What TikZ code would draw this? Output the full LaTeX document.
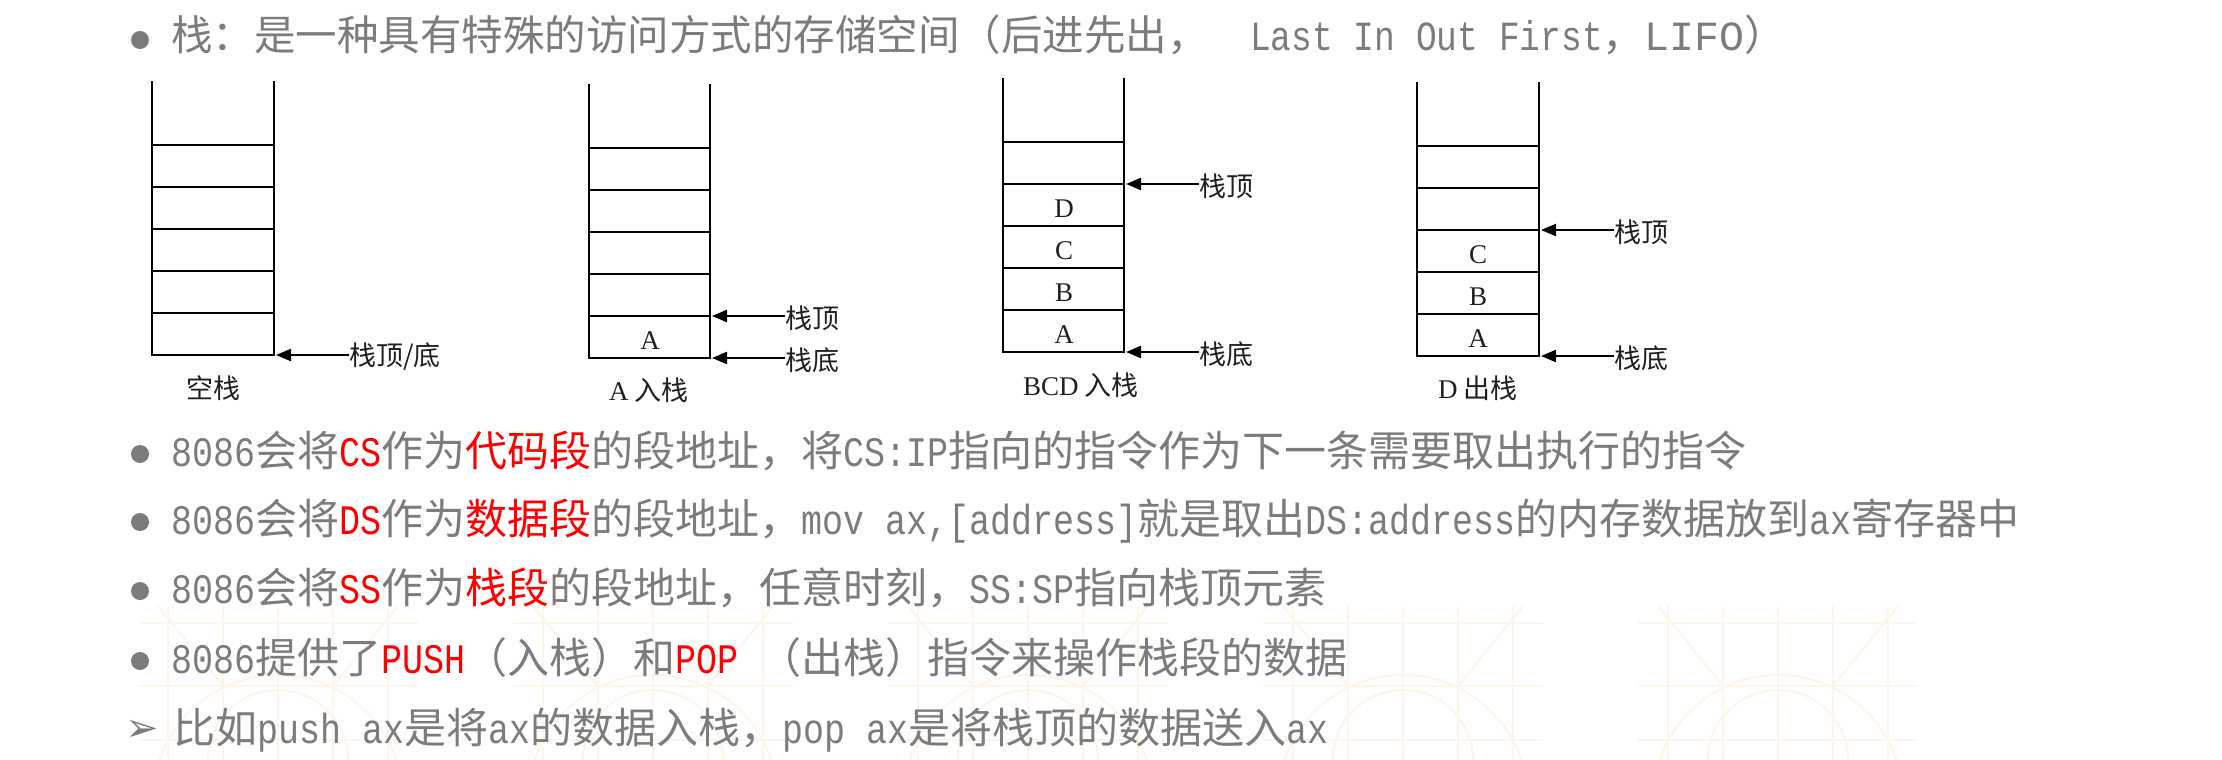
\documentclass[tikz,border=0pt]{standalone}
\usepackage{fontspec}
\setmainfont{Noto Sans CJK SC}
\newfontfamily\stackserif{Liberation Serif}
\newfontfamily\halfmono[FakeStretch=0.8333]{Liberation Mono}
\newfontfamily\widemono{Liberation Mono}
\newfontfamily\dingfont{DejaVu Sans}
\usetikzlibrary{arrows.meta}

\definecolor{textgray}{RGB}{124,124,124}
\definecolor{keyred}{RGB}{255,0,0}
\definecolor{latticeorange}{RGB}{254,245,234}

\newcommand{\hw}[1]{{\halfmono #1}}
\newcommand{\keyword}[1]{{\color{keyred}#1}}

\begin{document}
\begin{tikzpicture}[
            x=1pt, y=-1pt,
            >={Triangle[length=15pt,width=12pt]},
            stackline/.style={black, line width=1.3pt},
            pointer/.style={->, black, line width=2.2pt},
            stacklabel/.style={inner sep=0pt, text=black!88, font=\fontsize{27pt}{30pt}\selectfont},
            stackletter/.style={inner sep=0pt, text=black!88, font=\fontsize{27pt}{30pt}\stackserif},
            bullettext/.style={anchor=base west, inner sep=0pt, text=textgray, font=\fontsize{42pt}{50pt}\selectfont},
            bulletdot/.style={circle, fill=textgray, inner sep=0pt, minimum size=18pt},
            lattice/.style={latticeorange, line width=2.2pt}
        ]
        \useasboundingbox[fill=white] (0,0) rectangle (2222,760);

        %Background lattice

        \def\latticetile#1{
            \draw[lattice] (#1,623) -- ++(280,0) (#1,686) -- ++(280,0) (#1,740) -- ++(280,0);
            \draw[lattice] (#1+30,606) -- ++(0,154) (#1+85,606) -- ++(0,154) (#1+140,606) -- ++(0,154)
                (#1+195,606) -- ++(0,154) (#1+250,606) -- ++(0,154);
            \draw[lattice] (#1+20,606) -- (#1+85,686) (#1+260,606) -- (#1+195,686);
            \draw[lattice] (#1+140,800) circle (125pt);
            \draw[lattice] (#1+140,760) circle (70pt);
        }
        \latticetile{138}
        \latticetile{513}
        \latticetile{888}
        \latticetile{1263}
        \latticetile{1638}

        %% Title line

        \node[bulletdot] (dot0) at (140,40) {};
        \node[bullettext, font=\fontsize{41.5pt}{48pt}\selectfont] (title) at (171,51)
            {栈：是一种具有特殊的访问方式的存储空间（后进先出，\hw{\ \ Last In Out First}，{\widemono LIFO}）};

        %% Stack 1: empty stack

        \def\StackOneL{152}; \def\StackOneR{274}; \def\StackOneB{355};

        \coordinate (stack1_tl) at (\StackOneL,\StackOneB-274);
        \coordinate (stack1_bl) at (\StackOneL,\StackOneB);
        \coordinate (stack1_br) at (\StackOneR,\StackOneB);
        \coordinate (stack1_tr) at (\StackOneR,\StackOneB-274);
        \coordinate (stack1_bot) at (\StackOneR+2,\StackOneB);

        \draw[stackline] (stack1_tl) -- (stack1_bl) -- (stack1_br) -- (stack1_tr);
        \draw[stackline] (\StackOneL,\StackOneB-42) -- (\StackOneR,\StackOneB-42)
            (\StackOneL,\StackOneB-84) -- (\StackOneR,\StackOneB-84)
            (\StackOneL,\StackOneB-126) -- (\StackOneR,\StackOneB-126)
            (\StackOneL,\StackOneB-168) -- (\StackOneR,\StackOneB-168)
            (\StackOneL,\StackOneB-210) -- (\StackOneR,\StackOneB-210);
        \node[stacklabel, anchor=west] (stack1_botlbl) at (\StackOneR+75,\StackOneB+2) {栈顶/底};
        \draw[pointer] (stack1_botlbl.west |- stack1_bot) -- (stack1_bot);
        \node[stacklabel] (stack1_cap) at (\StackOneL+61,\StackOneB+33) {空栈};

        %% Stack 2: A pushed

        \def\StackTwoL{589}; \def\StackTwoR{710}; \def\StackTwoB{358};

        \coordinate (stack2_tl) at (\StackTwoL,\StackTwoB-274);
        \coordinate (stack2_bl) at (\StackTwoL,\StackTwoB);
        \coordinate (stack2_br) at (\StackTwoR,\StackTwoB);
        \coordinate (stack2_tr) at (\StackTwoR,\StackTwoB-274);
        \coordinate (stack2_top) at (\StackTwoR+2,\StackTwoB-42);
        \coordinate (stack2_bot) at (\StackTwoR+2,\StackTwoB);

        \draw[stackline] (stack2_tl) -- (stack2_bl) -- (stack2_br) -- (stack2_tr);
        \draw[stackline] (\StackTwoL,\StackTwoB-42) -- (\StackTwoR,\StackTwoB-42)
            (\StackTwoL,\StackTwoB-84) -- (\StackTwoR,\StackTwoB-84)
            (\StackTwoL,\StackTwoB-126) -- (\StackTwoR,\StackTwoB-126)
            (\StackTwoL,\StackTwoB-168) -- (\StackTwoR,\StackTwoB-168)
            (\StackTwoL,\StackTwoB-210) -- (\StackTwoR,\StackTwoB-210);
        \node[stackletter] (stack2_a) at (\StackTwoL+61,\StackTwoB-17) {A};
        \node[stacklabel, anchor=west] (stack2_toplbl) at (\StackTwoR+75,\StackTwoB-40) {栈顶};
        \node[stacklabel, anchor=west] (stack2_botlbl) at (\StackTwoR+75,\StackTwoB+2) {栈底};
        \draw[pointer] (stack2_toplbl.west |- stack2_top) -- (stack2_top);
        \draw[pointer] (stack2_botlbl.west |- stack2_bot) -- (stack2_bot);
        \node[stacklabel] (stack2_cap) at (\StackTwoL+60,\StackTwoB+32) {{\stackserif A} 入栈};

        %% Stack 3: B, C, D pushed

        \def\StackThreeL{1003}; \def\StackThreeR{1124}; \def\StackThreeB{352};

        \coordinate (stack3_tl) at (\StackThreeL,\StackThreeB-274);
        \coordinate (stack3_bl) at (\StackThreeL,\StackThreeB);
        \coordinate (stack3_br) at (\StackThreeR,\StackThreeB);
        \coordinate (stack3_tr) at (\StackThreeR,\StackThreeB-274);
        \coordinate (stack3_top) at (\StackThreeR+2,\StackThreeB-168);
        \coordinate (stack3_bot) at (\StackThreeR+2,\StackThreeB);

        \draw[stackline] (stack3_tl) -- (stack3_bl) -- (stack3_br) -- (stack3_tr);
        \draw[stackline] (\StackThreeL,\StackThreeB-42) -- (\StackThreeR,\StackThreeB-42)
            (\StackThreeL,\StackThreeB-84) -- (\StackThreeR,\StackThreeB-84)
            (\StackThreeL,\StackThreeB-126) -- (\StackThreeR,\StackThreeB-126)
            (\StackThreeL,\StackThreeB-168) -- (\StackThreeR,\StackThreeB-168)
            (\StackThreeL,\StackThreeB-210) -- (\StackThreeR,\StackThreeB-210);
        \node[stackletter] (stack3_a) at (\StackThreeL+61,\StackThreeB-17) {A};
        \node[stackletter] (stack3_b) at (\StackThreeL+61,\StackThreeB-59) {B};
        \node[stackletter] (stack3_c) at (\StackThreeL+61,\StackThreeB-101) {C};
        \node[stackletter] (stack3_d) at (\StackThreeL+61,\StackThreeB-143) {D};
        \node[stacklabel, anchor=west] (stack3_toplbl) at (\StackThreeR+75,\StackThreeB-166) {栈顶};
        \node[stacklabel, anchor=west] (stack3_botlbl) at (\StackThreeR+75,\StackThreeB+2) {栈底};
        \draw[pointer] (stack3_toplbl.west |- stack3_top) -- (stack3_top);
        \draw[pointer] (stack3_botlbl.west |- stack3_bot) -- (stack3_bot);
        \node[stacklabel] (stack3_cap) at (\StackThreeL+78,\StackThreeB+33) {{\stackserif BCD} 入栈};

        %% Stack 4: D popped

        \def\StackFourL{1417}; \def\StackFourR{1539}; \def\StackFourB{356};

        \coordinate (stack4_tl) at (\StackFourL,\StackFourB-274);
        \coordinate (stack4_bl) at (\StackFourL,\StackFourB);
        \coordinate (stack4_br) at (\StackFourR,\StackFourB);
        \coordinate (stack4_tr) at (\StackFourR,\StackFourB-274);
        \coordinate (stack4_top) at (\StackFourR+2,\StackFourB-126);
        \coordinate (stack4_bot) at (\StackFourR+2,\StackFourB);

        \draw[stackline] (stack4_tl) -- (stack4_bl) -- (stack4_br) -- (stack4_tr);
        \draw[stackline] (\StackFourL,\StackFourB-42) -- (\StackFourR,\StackFourB-42)
            (\StackFourL,\StackFourB-84) -- (\StackFourR,\StackFourB-84)
            (\StackFourL,\StackFourB-126) -- (\StackFourR,\StackFourB-126)
            (\StackFourL,\StackFourB-168) -- (\StackFourR,\StackFourB-168)
            (\StackFourL,\StackFourB-210) -- (\StackFourR,\StackFourB-210);
        \node[stackletter] (stack4_a) at (\StackFourL+61,\StackFourB-17) {A};
        \node[stackletter] (stack4_b) at (\StackFourL+61,\StackFourB-59) {B};
        \node[stackletter] (stack4_c) at (\StackFourL+61,\StackFourB-101) {C};
        \node[stacklabel, anchor=west] (stack4_toplbl) at (\StackFourR+75,\StackFourB-124) {栈顶};
        \node[stacklabel, anchor=west] (stack4_botlbl) at (\StackFourR+75,\StackFourB+2) {栈底};
        \draw[pointer] (stack4_toplbl.west |- stack4_top) -- (stack4_top);
        \draw[pointer] (stack4_botlbl.west |- stack4_bot) -- (stack4_bot);
        \node[stacklabel] (stack4_cap) at (\StackFourL+61,\StackFourB+32) {{\stackserif D} 出栈};

        %% Segment registers

        \node[bulletdot] (dot1) at (140,454) {};
        \node[bullettext] (line1) at (171,466)
            {\hw{8086}会将\keyword{\hw{CS}}作为\keyword{代码段}的段地址，将\hw{CS:IP}指向的指令作为下一条需要取出执行的指令};
        \node[bulletdot] (dot2) at (140,522) {};
        \node[bullettext] (line2) at (171,534)
            {\hw{8086}会将\keyword{\hw{DS}}作为\keyword{数据段}的段地址，\hw{mov ax,[address]}就是取出\hw{DS:address}的内存数据放到\hw{ax}寄存器中};
        \node[bulletdot] (dot3) at (140,591) {};
        \node[bullettext] (line3) at (171,603)
            {\hw{8086}会将\keyword{\hw{SS}}作为\keyword{栈段}的段地址，任意时刻，\hw{SS:SP}指向栈顶元素};
        \node[bulletdot] (dot4) at (140,661) {};
        \node[bullettext] (line4) at (171,673)
            {\hw{8086}提供了\keyword{\hw{PUSH}}（入栈）和\keyword{\hw{POP}}\hw{\ }（出栈）指令来操作栈段的数据};
        \node[inner sep=0pt, text=textgray, font=\fontsize{40pt}{44pt}\dingfont] (arrow5) at (142,731) {➢};
        \node[bullettext] (line5) at (173,743)
            {比如\hw{push ax}是将\hw{ax}的数据入栈，\hw{pop ax}是将栈顶的数据送入\hw{ax}};

    \end{tikzpicture}
\end{document}
